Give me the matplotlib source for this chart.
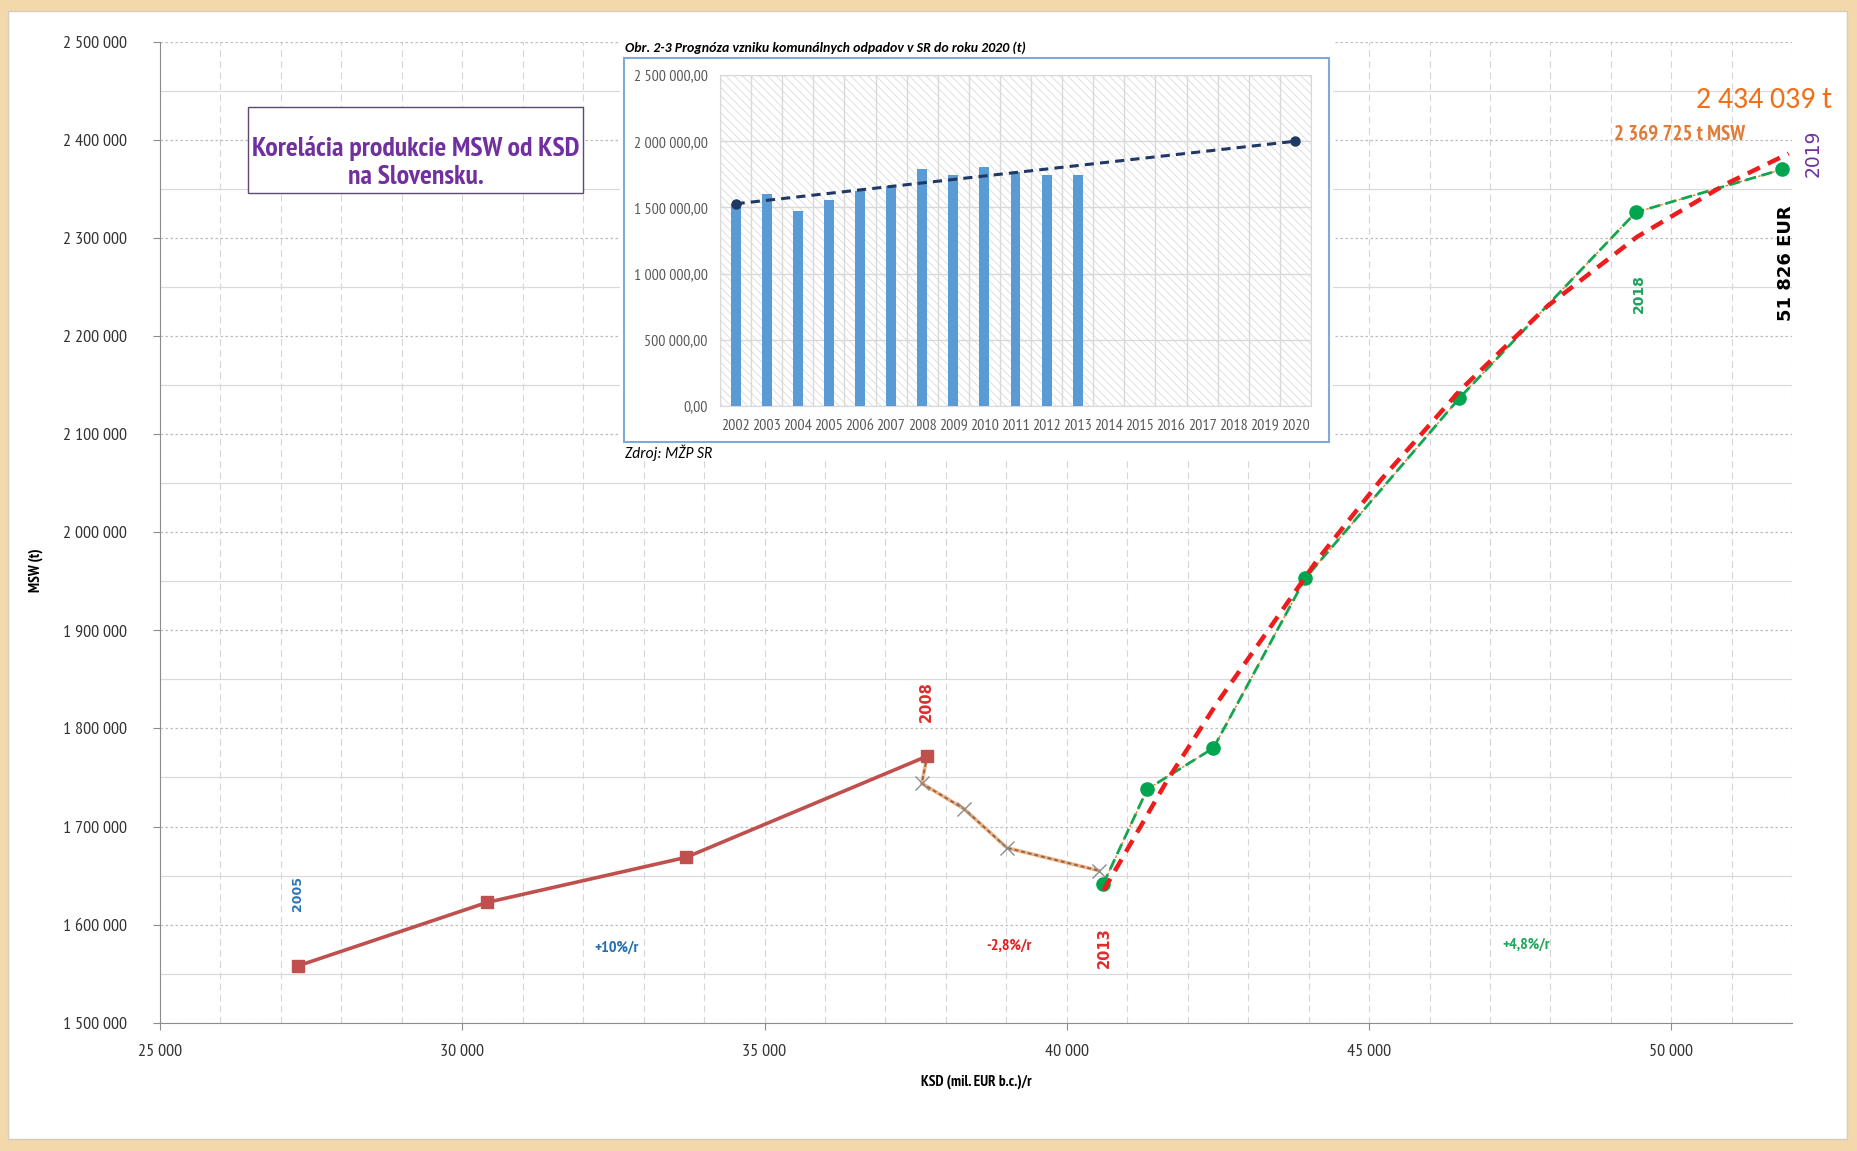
import numpy as np
import matplotlib
matplotlib.use('Agg')
import matplotlib.pyplot as plt
from matplotlib.patches import Rectangle
from matplotlib.ticker import MultipleLocator, FuncFormatter

# Calibri-like fonts: a narrow one for the squeezed chart text, Carlito for italics
narrow = 'PT Sans Narrow'
calibri = 'Carlito'
plt.rcParams['font.family'] = [narrow, 'DejaVu Sans']
plt.rcParams['hatch.linewidth'] = 0.6

# --- main chart data: KSD (mil. EUR) vs MSW (t) ---
ksd_0508 = [27290, 30410, 33700, 37690]
msw_0508 = [1558100, 1622600, 1668500, 1771700]

ksd_0813 = [37690, 37600, 38300, 39010, 40530]
msw_0813 = [1771700, 1744000, 1718000, 1678200, 1655000]

ksd_1319 = [40600, 41330, 42425, 43944, 46490, 49410, 51826]
msw_1319 = [1641000, 1738000, 1780000, 1953000, 2136500, 2326000, 2369725]

# trendline
trend_ksd = [40610, 41660, 42480, 43370, 44140, 45190, 46510, 47940, 49430, 50920, 51940]
trend_msw = [1635000, 1747000, 1825500, 1903500, 1971500, 2053000, 2145000, 2230000, 2301000, 2355500, 2386000]

# --- inset chart data ---
years = [str(y) for y in range(2002, 2021)]
waste = [1525000, 1600000, 1473000, 1556000, 1624000, 1662000,
         1792000, 1742000, 1808000, 1765000, 1747000, 1742000]
forecast_years = ['2002', '2020']
forecast_vals = [1527000, 2000000]

W, H = 1857, 1151
fig = plt.figure(figsize=(W / 100, H / 100), dpi=100, facecolor='#f3d8ab')

def fx(px):
    return px / W

def fy(py):
    return 1 - py / H

# white sheet
fig.add_artist(Rectangle((fx(8), fy(1139)), fx(1847 - 8), (1139 - 11) / H,
                         transform=fig.transFigure, facecolor='white',
                         edgecolor='#d6cbbd', lw=1, zorder=-1))

ax = fig.add_axes([fx(160), fy(1022.7), fx(1792.3 - 160), (1022.7 - 41.7) / H], zorder=0)
ax.set_xlim(25000, 52000)
ax.set_ylim(1500000, 2500000)
ax.xaxis.set_major_locator(MultipleLocator(5000))
ax.xaxis.set_minor_locator(MultipleLocator(1000))
ax.yaxis.set_major_locator(MultipleLocator(100000))
ax.yaxis.set_minor_locator(MultipleLocator(50000))
ax.grid(axis='x', which='both', color='#d6d6d6', linestyle=(0, (6, 4)), linewidth=0.8)
ax.grid(axis='y', which='major', color='#bdbdbd', linestyle=(0, (2, 2)), linewidth=0.9)
ax.grid(axis='y', which='minor', color='#dadada', linestyle='-', linewidth=0.9)
ax.set_axisbelow(True)

fmt = FuncFormatter(lambda v, p: f'{v:,.0f}'.replace(',', ' '))
ax.xaxis.set_major_formatter(fmt)
ax.yaxis.set_major_formatter(fmt)
ax.tick_params(which='minor', length=0)
ax.tick_params(which='major', length=5, color='#8c8c8c', labelsize=13, labelcolor='#333333')
ax.tick_params(axis='y', pad=19)
ax.tick_params(axis='x', pad=10)
for s in ['top', 'right']:
    ax.spines[s].set_visible(False)
for s in ['left', 'bottom']:
    ax.spines[s].set_color('#8c8c8c')

ax.set_xlabel('KSD (mil. EUR b.c.)/r', fontsize=11, fontweight='bold', labelpad=11)
ax.set_ylabel('MSW (t)', fontsize=11, fontweight='bold')
ax.yaxis.set_label_coords(-0.0715, 0.4615)

# series
ax.plot(ksd_0813, msw_0813, color='#f4b183', lw=2.6, zorder=2)
ax.plot(ksd_0813, msw_0813, color='#8a6a4a', lw=1.4, dashes=(2, 1.5), zorder=2.1,
        marker='x', markevery=[1, 2, 3, 4], ms=10, mew=1, mec='#8c8c8c')
ax.plot(ksd_1319, msw_1319, color='#ed7d31', lw=1, dashes=(2, 1.5), zorder=2.2)
ax.plot(ksd_0508, msw_0508, color='#c0504d', lw=2.6, marker='s', ms=8, zorder=3)
ax.plot(ksd_1319, msw_1319, color='#13a550', lw=2, dashes=(4, 2), zorder=3)
ax.plot(ksd_1319, msw_1319, ls='none', marker='o', ms=9.5, color='#00a550', zorder=3.5)
ax.plot(trend_ksd, trend_msw, color='#ee1c1c', lw=3.2, dashes=(3, 2),
        solid_capstyle='butt', zorder=4)

# annotations
vfont = 'DejaVu Sans'
ax.text(27267, 1631200, '2005', rotation=90, color='#2e75b6', fontsize=9,
        fontweight='bold', family=vfont, ha='center', va='center')
ax.text(37674, 1826900, '2008', rotation=90, color='#e02b2b', fontsize=10.5,
        fontweight='bold', family=vfont, ha='center', va='center')
ax.text(40619, 1576700, '2013', rotation=90, color='#e02b2b', fontsize=10.5,
        fontweight='bold', family=vfont, ha='center', va='center')
ax.text(49470, 2243100, '2018', rotation=90, color='#1fa05a', fontsize=10,
        fontweight='bold', family=vfont, ha='center', va='center')
ax.text(52350, 2386000, '2019', rotation=90, color='#7030a0', fontsize=13.5,
        family=vfont, ha='center', va='center', clip_on=False)
ax.text(51903, 2274400, '51 826 EUR', rotation=90, color='black', fontsize=13,
        fontweight='bold', family=vfont, ha='center', va='center')
ax.text(50130, 2405900, '2 369 725 t MSW', color='#e07b39', fontsize=15,
        fontweight='bold', ha='center', va='center')
ax.text(51531, 2441000, '2 434 039 t', color='#f07018', fontsize=21.5,
        family=calibri, ha='center', va='center', clip_on=False)
ax.text(32545, 1576700, '+10%/r', color='#1f6fb2', fontsize=11.5, fontweight='bold',
        ha='center', va='center')
ax.text(39047, 1578200, '-2,8%/r', color='#e02020', fontsize=11.5, fontweight='bold',
        ha='center', va='center')
ax.text(47593, 1579200, '+4,8%/r', color='#22a65a', fontsize=11.5, fontweight='bold',
        ha='center', va='center')

# title box
fig.add_artist(Rectangle((fx(248), fy(193)), fx(583 - 248), (193 - 107) / H,
                         transform=fig.transFigure, facecolor='white',
                         edgecolor='#5d4a6e', lw=1, zorder=2))
fig.text(fx(415.5), fy(156), 'Korelácia produkcie MSW od KSD', color='#7030a0',
         fontsize=20, fontweight='bold', ha='center', va='baseline', zorder=3)
fig.text(fx(415.5), fy(184), 'na Slovensku.', color='#7030a0',
         fontsize=20, fontweight='bold', ha='center', va='baseline', zorder=3)

# --- inset (pasted figure) ---
fig.add_artist(Rectangle((fx(620), fy(460)), fx(1333 - 620), (460 - 36) / H,
                         transform=fig.transFigure, facecolor='white', lw=0, zorder=1))
fig.add_artist(Rectangle((fx(623.7), fy(442.3)), fx(1329.4 - 623.7), (442.3 - 58.3) / H,
                         transform=fig.transFigure, facecolor='white',
                         edgecolor='#7fa9d8', lw=1.5, zorder=1.2))
fig.text(fx(624.6), fy(48), 'Obr. 2-3 Prognóza vzniku komunálnych odpadov v SR do roku 2020 (t)',
         fontsize=10, fontweight='bold', style='italic', family=calibri,
         va='center', zorder=3)
fig.text(fx(624.6), fy(452.7), 'Zdroj: MŽP SR', fontsize=11.2, style='italic',
         family=calibri, va='center', zorder=3)

iax = fig.add_axes([fx(720), fy(406), fx(1311 - 720), (406 - 75) / H], zorder=2)
pos = np.arange(len(years))
iax.add_patch(Rectangle((0, 0), 1, 1, transform=iax.transAxes, facecolor='none',
                        edgecolor='#dadada', hatch='\\\\\\\\', lw=0, zorder=0.2))
iax.bar(pos[:len(waste)], waste, width=0.32, color='#5b9bd5', zorder=3)
fpos = [years.index(y) for y in forecast_years]
iax.plot(fpos, forecast_vals, color='#1f3864', lw=2.2, dashes=(3, 2), marker='o',
         ms=6.5, zorder=4)
iax.set_xlim(-0.5, len(years) - 0.5)
iax.set_ylim(0, 2500000)
iax.set_xticks(pos, labels=years)
iax.set_xticks(np.arange(-0.5, len(years), 1), minor=True)
iax.yaxis.set_major_locator(MultipleLocator(500000))
iax.yaxis.set_major_formatter(FuncFormatter(
    lambda v, p: f'{v:,.2f}'.replace(',', ' ').replace('.', ',')))
iax.grid(axis='y', color='#d9d9d9', lw=1)
iax.grid(axis='x', which='minor', color='#d9d9d9', lw=1)
iax.set_axisbelow(True)
iax.tick_params(which='both', length=0, labelcolor='#595959')
iax.tick_params(axis='x', labelsize=11.5, pad=9)
iax.tick_params(axis='y', labelsize=11.4, pad=9)
for s in iax.spines.values():
    s.set_color('#d9d9d9')

fig.savefig('out.png', dpi=100, facecolor=fig.get_facecolor())
